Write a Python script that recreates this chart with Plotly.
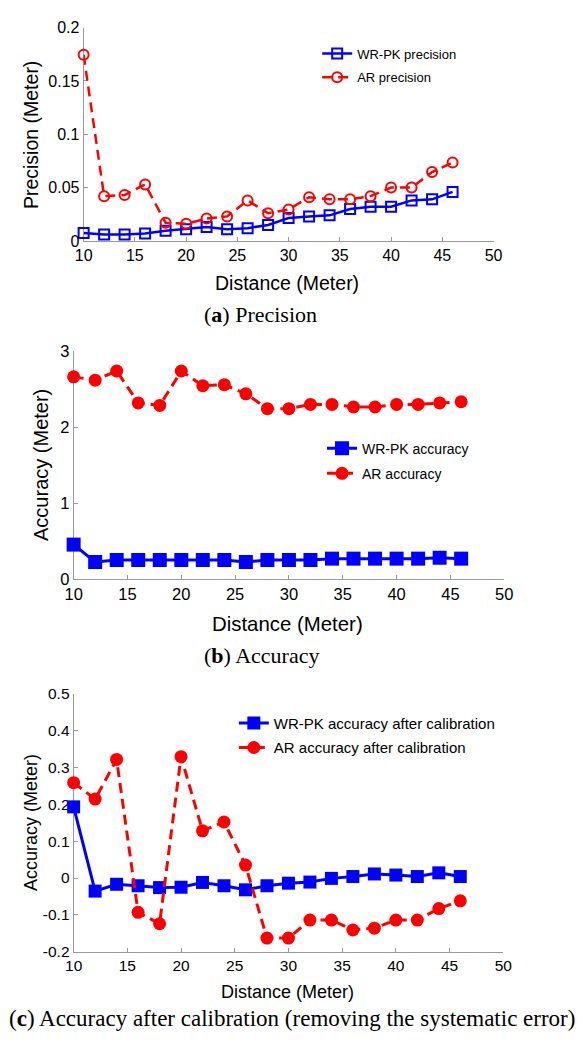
import plotly.graph_objects as go

W, H = 583, 1043

distance = [10, 12, 14, 16, 18, 20, 22, 24, 26, 28, 30, 32, 34, 36, 38, 40, 42, 44, 46]

wrpk_precision = [0.0074, 0.006, 0.006, 0.007, 0.0095, 0.011, 0.013, 0.011, 0.012, 0.015,
                  0.0215, 0.023, 0.024, 0.030, 0.032, 0.032, 0.038, 0.039, 0.046]
ar_precision = [0.1745, 0.042, 0.043, 0.053, 0.017, 0.016, 0.021, 0.023, 0.038, 0.026,
                0.0295, 0.041, 0.039, 0.039, 0.042, 0.050, 0.050, 0.0646, 0.0735]

wrpk_accuracy = [0.453, 0.224, 0.25, 0.25, 0.25, 0.25, 0.25, 0.25, 0.224, 0.25,
                 0.25, 0.25, 0.268, 0.268, 0.268, 0.268, 0.268, 0.28, 0.268]
ar_accuracy = [2.663, 2.62, 2.74, 2.32, 2.287, 2.74, 2.546, 2.56, 2.44, 2.244,
               2.244, 2.30, 2.30, 2.266, 2.266, 2.30, 2.30, 2.32, 2.335]

wrpk_calib = [0.193, -0.0355, -0.017, -0.021, -0.026, -0.025, -0.012, -0.021, -0.032, -0.021,
              -0.014, -0.011, -0.001, 0.004, 0.011, 0.008, 0.004, 0.014, 0.004]
ar_calib = [0.2585, 0.214, 0.3216, -0.093, -0.124, 0.329, 0.128, 0.152, 0.035, -0.163,
            -0.163, -0.114, -0.114, -0.141, -0.136, -0.114, -0.114, -0.083, -0.062]

x_ticks = [10, 15, 20, 25, 30, 35, 40, 45, 50]
ya_ticks = [0, 0.05, 0.1, 0.15, 0.2]
ya_labels = ["0", "0.05", "0.1", "0.15", "0.2"]
yb_ticks = [0, 1, 2, 3]
yb_labels = ["0", "1", "2", "3"]
yc_ticks = [-0.2, -0.1, 0, 0.1, 0.2, 0.3, 0.4, 0.5]
yc_labels = ["-0.2", "-0.1", "0", "0.1", "0.2", "0.3", "0.4", "0.5"]

BLUE = "#0000FF"
RED = "#FF0000"
SANS = "Liberation Sans, Arial, sans-serif"
SERIF = "Liberation Serif, Times New Roman, serif"
DASH = "10px,6px"


def fx(px):
    return px / W


def fy(py):
    return 1 - py / H


fig = go.Figure()

# Panel (a)
fig.add_trace(go.Scatter(x=distance, y=wrpk_precision, mode="lines+markers", name="WR-PK precision",
                         xaxis="x", yaxis="y", legend="legend", legendgroup="a1", cliponaxis=False,
                         line=dict(color=BLUE, width=2.5),
                         marker=dict(symbol="square-open", size=10, color=BLUE, line=dict(width=2, color=BLUE))))
fig.add_trace(go.Scatter(x=distance, y=ar_precision, mode="lines+markers", name="AR precision",
                         xaxis="x", yaxis="y", legend="legend", legendgroup="a2", cliponaxis=False,
                         line=dict(color=RED, width=2.5, dash=DASH),
                         marker=dict(symbol="circle-open", size=10, color=RED, line=dict(width=2, color=RED))))
# Panel (b)
fig.add_trace(go.Scatter(x=distance, y=wrpk_accuracy, mode="lines+markers", name="WR-PK accuracy",
                         xaxis="x2", yaxis="y2", legend="legend2", legendgroup="b1", cliponaxis=False,
                         line=dict(color=BLUE, width=3),
                         marker=dict(symbol="square", size=14, color=BLUE)))
fig.add_trace(go.Scatter(x=distance, y=ar_accuracy, mode="lines+markers", name="AR accuracy",
                         xaxis="x2", yaxis="y2", legend="legend2", legendgroup="b2", cliponaxis=False,
                         line=dict(color=RED, width=3, dash=DASH),
                         marker=dict(symbol="circle", size=13, color=RED)))
# Panel (c)
fig.add_trace(go.Scatter(x=distance, y=wrpk_calib, mode="lines+markers", name="WR-PK accuracy after calibration",
                         xaxis="x3", yaxis="y3", legend="legend3", legendgroup="c1", cliponaxis=False,
                         line=dict(color=BLUE, width=3),
                         marker=dict(symbol="square", size=13, color=BLUE)))
fig.add_trace(go.Scatter(x=distance, y=ar_calib, mode="lines+markers", name="AR accuracy after calibration",
                         xaxis="x3", yaxis="y3", legend="legend3", legendgroup="c2", cliponaxis=False,
                         line=dict(color=RED, width=3, dash=DASH),
                         marker=dict(symbol="circle", size=13, color=RED)))


def xaxis(domain, anchor, fsize):
    return dict(domain=domain, anchor=anchor, range=[10, 50], tickvals=x_ticks,
                ticktext=[str(v) for v in x_ticks],
                showline=True, linecolor="#9a9a9a", linewidth=1, ticks="inside", ticklen=4,
                tickcolor="#9a9a9a", showgrid=False, zeroline=False, layer="below traces",
                tickfont=dict(family=SANS, size=fsize, color="black"), fixedrange=True)


def yaxis(domain, anchor, rng, tv, tt, fsize):
    return dict(domain=domain, anchor=anchor, range=rng, tickvals=tv, ticktext=tt,
                showline=True, linecolor="#9a9a9a", linewidth=1, ticks="inside", ticklen=4,
                tickcolor="#9a9a9a", showgrid=False, zeroline=False, layer="below traces",
                tickfont=dict(family=SANS, size=fsize, color="black"), fixedrange=True)


def legend(xpx, ypx, fsize, gap):
    return dict(x=fx(xpx), y=fy(ypx), xanchor="left", yanchor="top", xref="paper", yref="paper",
                bgcolor="rgba(0,0,0,0)", borderwidth=0, traceorder="grouped", tracegroupgap=gap,
                font=dict(family=SANS, size=fsize, color="black"), itemsizing="trace")


fig.update_layout(
    width=W, height=H, margin=dict(l=0, r=0, t=0, b=0),
    paper_bgcolor="white", plot_bgcolor="white", showlegend=True,
    xaxis=xaxis([fx(77), fx(500)], "y", 16),
    yaxis=yaxis([fy(236), fy(19)], "x", [0, 0.2], ya_ticks, ya_labels, 16),
    xaxis2=xaxis([fx(66.7), fx(511)], "y2", 16.5),
    yaxis2=yaxis([fy(580), fy(348.3)], "x2", [0, 3], yb_ticks, yb_labels, 16.5),
    xaxis3=xaxis([fx(66.7), fx(510)], "y3", 15.5),
    yaxis3=yaxis([fy(959.3), fy(696.7)], "x3", [-0.2, 0.5], yc_ticks, yc_labels, 15.5),
    legend=legend(318, 30, 13, 4),
    legend2=legend(323, 431, 14, 4),
    legend3=legend(232, 710, 15, 2),
)

annotations = [
    # axis titles
    dict(text="Precision (Meter)", x=fx(23), y=fy(128), textangle=-90, size=19.5),
    dict(text="Distance (Meter)", x=fx(287), y=fy(279), textangle=0, size=19.5),
    dict(text="Accuracy (Meter)", x=fx(33), y=fy(464), textangle=-90, size=20),
    dict(text="Distance (Meter)", x=fx(287), y=fy(626), textangle=0, size=20.4),
    dict(text="Accuracy (Meter)", x=fx(22), y=fy(828), textangle=-90, size=18),
    dict(text="Distance (Meter)", x=fx(287), y=fy(1000), textangle=0, size=18),
]
anns = []
for a in annotations:
    anns.append(dict(text=a["text"], x=a["x"], y=a["y"], xref="paper", yref="paper",
                     xanchor="center", yanchor="middle", showarrow=False, textangle=a["textangle"],
                     font=dict(family=SANS, size=a["size"], color="black")))

captions = [
    ("(<b>a</b>) Precision", 260, 311, 22),
    ("(<b>b</b>) Accuracy", 261, 658, 22),
    ("(<b>c</b>) Accuracy after calibration (removing the systematic error)", 291.5, 1027, 23),
]
for text, cx, cy, fs in captions:
    anns.append(dict(text=text, x=fx(cx), y=fy(cy), xref="paper", yref="paper",
                     xanchor="center", yanchor="middle", showarrow=False,
                     font=dict(family=SERIF, size=fs, color="black")))

fig.update_layout(annotations=anns)

fig.write_html("out.html", config={"displayModeBar": False})
